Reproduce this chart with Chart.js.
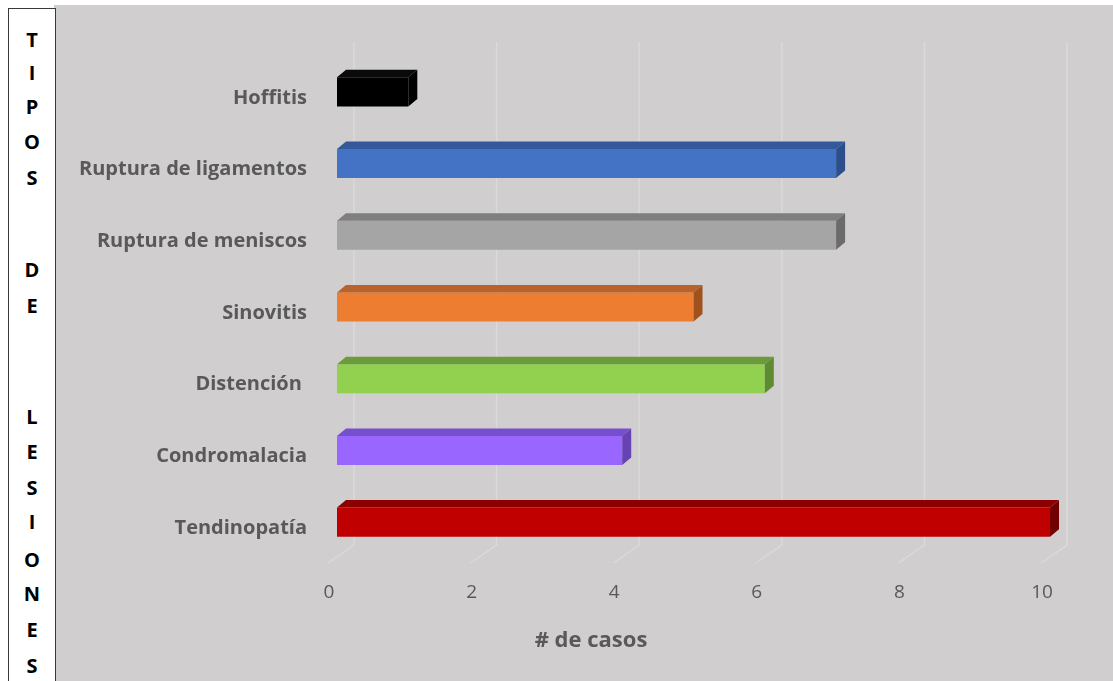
<!DOCTYPE html>
<html lang="es">
<head>
<meta charset="utf-8">
<script src="https://cdn.jsdelivr.net/npm/chart.js@4.4.1/dist/chart.umd.min.js"></script>
<style>
  html, body { margin: 0; padding: 0; background: #ffffff; }
  body { width: 1113px; height: 681px; position: relative; overflow: hidden; font-family: "Open Sans", sans-serif; }
  #panel { position: absolute; left: 54px; top: 5px; width: 1059px; height: 676px; background: #d0cece; }
  #side { position: absolute; left: 8px; top: 8px; width: 46px; height: 700px; background: #ffffff;
          border: 1.5px solid #3a3a3a; }
  #side span { position: absolute; left: 0; width: 46px; text-align: center; font-weight: 700;
               font-size: 20px; line-height: 24px; color: #000; }
  #xtitle { position: absolute; left: 471px; width: 240px; top: 624px; text-align: center;
            font-weight: 700; font-size: 22px; line-height: 28px; color: #595959; }
</style>
</head>
<body>
<div id="panel"><canvas id="c" width="1059" height="676"></canvas></div>
<div id="side"></div>
<div id="xtitle"># de casos</div>
<script>
// Injury types, top to bottom, and number of cases for each
const categories = ["Hoffitis", "Ruptura de ligamentos", "Ruptura de meniscos", "Sinovitis", "Distención ", "Condromalacia", "Tendinopatía"];
const cases = [1, 7, 7, 5, 6, 4, 10];
const frontColors = ["#000000", "#4472c4", "#a5a5a5", "#ed7d31", "#92d050", "#9966ff", "#c00000"];
const topColors   = ["#0a0a0a", "#34599b", "#7f7f7f", "#b9622a", "#6c9b3b", "#7650cc", "#8b0000"];
const sideColors  = ["#000000", "#2c4f8c", "#6b6b6b", "#9f521d", "#5e8a31", "#6642b3", "#730000"];
const xTicks = [0, 2, 4, 6, 8, 10];
const sideTitle = ["T","I","P","O","S","D","E","L","E","S","I","O","N","E","S"];
const sideCenters = [40, 73, 107, 142, 178, 270, 306, 417, 452, 488, 522, 560, 594, 630, 666];

// vertical axis caption, one letter per line
const side = document.getElementById("side");
sideTitle.forEach((ch, i) => {
  const s = document.createElement("span");
  s.textContent = ch;
  s.style.top = (sideCenters[i] - 8 - 1.5 - 12) + "px";
  side.appendChild(s);
});

// depth of the 3D bars
const DX = 9, DY = 7.5;

// back-wall gridlines and floor lines of the 3D plot
const wallAndFloor = {
  id: "wallAndFloor",
  beforeDatasetsDraw(chart) {
    const { ctx, chartArea, scales: { x } } = chart;
    ctx.save();
    ctx.strokeStyle = "#dadada";
    ctx.lineWidth = 1.5;
    xTicks.forEach(v => {
      const px = x.getPixelForValue(v);
      const bx = px + 17;
      ctx.beginPath();
      ctx.moveTo(bx, chartArea.top - 14);
      ctx.lineTo(bx, chartArea.bottom - 13);
      ctx.lineTo(px - 9, chartArea.bottom + 5);
      ctx.stroke();
    });
    ctx.restore();
  }
};

// top and end faces that give each bar its depth
const bar3d = {
  id: "bar3d",
  afterDatasetsDraw(chart) {
    const { ctx } = chart;
    const meta = chart.getDatasetMeta(0);
    ctx.save();
    meta.data.forEach((el, i) => {
      const p = el.getProps(["x", "y", "base", "height"], true);
      const t = p.y - p.height / 2, b = p.y + p.height / 2;
      ctx.fillStyle = topColors[i];
      ctx.beginPath();
      ctx.moveTo(p.base, t);
      ctx.lineTo(p.base + DX, t - DY);
      ctx.lineTo(p.x + DX, t - DY);
      ctx.lineTo(p.x, t);
      ctx.closePath();
      ctx.fill();
      ctx.fillStyle = sideColors[i];
      ctx.beginPath();
      ctx.moveTo(p.x, t);
      ctx.lineTo(p.x + DX, t - DY);
      ctx.lineTo(p.x + DX, b - DY);
      ctx.lineTo(p.x, b);
      ctx.closePath();
      ctx.fill();
    });
    ctx.restore();
  }
};

new Chart(document.getElementById("c"), {
  type: "bar",
  data: {
    labels: categories,
    datasets: [{
      data: cases,
      backgroundColor: frontColors,
      borderWidth: 0,
      categoryPercentage: 1,
      barPercentage: 0.405
    }]
  },
  options: {
    indexAxis: "y",
    responsive: false,
    animation: false,
    devicePixelRatio: 1,
    layout: { padding: { top: 51, right: 63, bottom: 0, left: 0 } },
    plugins: { legend: { display: false }, tooltip: { enabled: false } },
    scales: {
      x: {
        min: 0, max: 10,
        afterFit: s => { s.height = 123; },
        afterBuildTicks: s => { s.ticks = xTicks.map(v => ({ value: v })); },
        grid: { display: false, drawTicks: false },
        border: { display: false },
        ticks: { color: "#595959", font: { family: "Open Sans", size: 19 }, padding: 23, labelOffset: -8 }
      },
      y: {
        afterFit: s => { s.width = 283; },
        grid: { display: false, drawTicks: false },
        border: { display: false },
        ticks: { color: "#595959", font: { family: "Open Sans", size: 20, weight: "bold" }, padding: 30, labelOffset: 6 }
      }
    }
  },
  plugins: [wallAndFloor, bar3d]
});
</script>
</body>
</html>
